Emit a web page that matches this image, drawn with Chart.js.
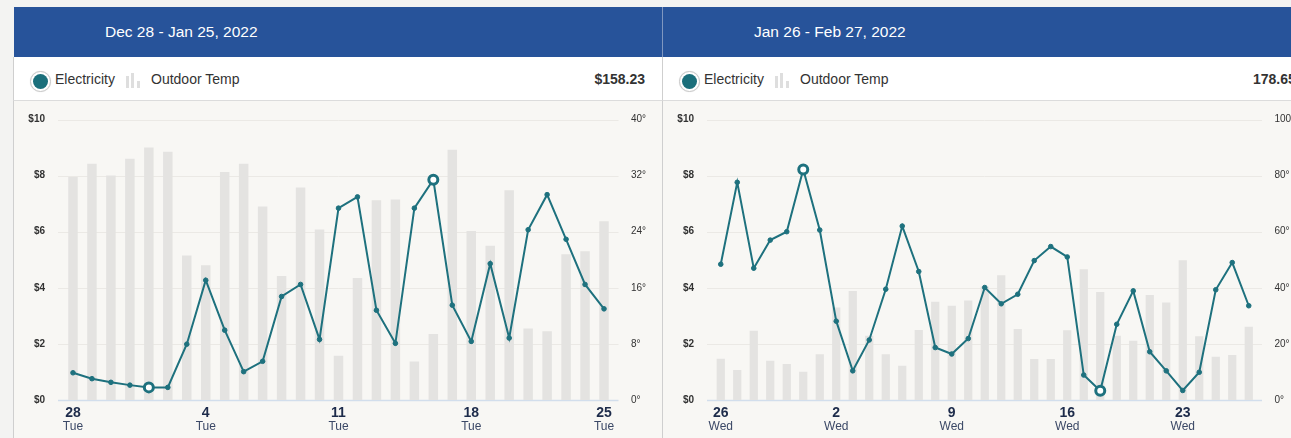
<!DOCTYPE html>
<html>
<head>
<meta charset="utf-8">
<script src="https://cdn.jsdelivr.net/npm/chart.js@4.4.1/dist/chart.umd.min.js"></script>
<style>
  html, body { margin: 0; padding: 0; }
  body { width: 1291px; height: 438px; overflow: hidden; background: #f3f3f2; position: relative;
         font-family: "Liberation Sans", Arial, sans-serif; }
  .panel { position: absolute; top: 7px; width: 649px; height: 431px; }
  .head { height: 50px; background: #27539a; color: #fff; font-size: 15.5px; line-height: 49px;
          padding-left: 91px; box-sizing: border-box; margin-left: 1px; }
  .legend { position: relative; background: #fff; border-left: 1px solid #cfcfcf;
            border-bottom: 1px solid #dcdcdc; box-sizing: border-box; height: 44px; }
  .plot { position: relative; height: 337px; background: #f8f7f4; border-left: 1px solid #cfcfcf; overflow: hidden; }
  .plot canvas { position: absolute; left: 0; top: -6px; }
  .dot { position: absolute; left: 16px; top: 14px; width: 19px; height: 19px; border-radius: 50%;
         background: #fff; border: 1px solid #c9c9c9; box-shadow: 0 0 1px rgba(0,0,0,.15); }
  .dot::after { content: ""; position: absolute; left: 2px; top: 2px; width: 15px; height: 15px;
                border-radius: 50%; background: #1b6f7b; }
  .lbl { position: absolute; top: 13px; font-size: 14px; color: #333; line-height: 18px; }
  .bars { position: absolute; left: 112px; top: 15px; width: 16px; height: 16px; }
  .bars i { position: absolute; bottom: 0; width: 3px; background: #dedede; }
  .total { position: absolute; top: 13px; font-size: 14px; font-weight: bold; color: #333; line-height: 18px; }
  #p2 .head { border-left: 1px solid #7f97c0; margin-left: 0; }
</style>
</head>
<body>

<div class="panel" id="p1" style="left:13px">
  <div class="head">Dec 28 - Jan 25, 2022</div>
  <div class="legend">
    <span class="dot"></span><span class="lbl" style="left:41px">Electricity</span>
    <span class="bars"><i style="left:0;height:12px"></i><i style="left:5px;height:15px"></i><i style="left:11px;height:7px"></i></span>
    <span class="lbl" style="left:137px">Outdoor Temp</span>
    <span class="total" style="right:17px">$158.23</span>
  </div>
  <div class="plot"><canvas id="c1" width="648" height="343"></canvas></div>
</div>

<div class="panel" id="p2" style="left:662px">
  <div class="head">Jan 26 - Feb 27, 2022</div>
  <div class="legend">
    <span class="dot"></span><span class="lbl" style="left:41px">Electricity</span>
    <span class="bars"><i style="left:0;height:12px"></i><i style="left:5px;height:15px"></i><i style="left:11px;height:7px"></i></span>
    <span class="lbl" style="left:137px">Outdoor Temp</span>
    <span class="total" style="left:590px">178.65</span>
  </div>
  <div class="plot"><canvas id="c2" width="648" height="343"></canvas></div>
</div>

<script>
// ── data: Dec 28 – Jan 25 ──
const daysA    = ['28','29','30','31','1','2','3','4','5','6','7','8','9','10','11','12','13','14','15','16','17','18','19','20','21','22','23','24','25'];
const weekdayA = 'Tue';
const elecA    = [0.97,0.76,0.63,0.53,0.45,0.45,1.99,4.27,2.49,1.01,1.38,3.69,4.12,2.16,6.84,7.24,3.20,2.02,6.84,7.85,3.38,2.09,4.86,2.21,6.07,7.32,5.73,4.12,3.25];
const tempA    = [31.8,33.7,32.0,34.4,36.0,35.4,20.6,19.2,32.5,33.7,27.6,17.7,30.3,24.3,6.3,17.4,28.5,28.6,5.5,9.4,35.7,24.1,22.0,29.9,10.2,9.8,20.8,21.2,25.5];
const tempTicksA = { max: 40, step: 8 };
const markA    = [4, 19];

// ── data: Jan 26 – Feb 27 ──
const daysB    = ['26','27','28','29','30','31','1','2','3','4','5','6','7','8','9','10','11','12','13','14','15','16','17','18','19','20','21','22','23','24','25','26','27'];
const weekdayB = 'Wed';
const elecB    = [4.84,7.76,4.70,5.70,6.00,8.22,6.06,2.81,1.04,2.14,3.95,6.20,4.58,1.87,1.64,2.19,4.01,3.43,3.77,4.97,5.47,5.10,0.89,0.33,2.70,3.89,1.72,1.04,0.34,0.99,3.93,4.90,3.36];
const tempB    = [14.7,10.7,24.7,14.0,12.8,10.1,16.3,33.0,38.9,22.9,16.3,12.2,25.0,35.0,33.6,35.5,40.5,44.5,25.3,14.6,14.6,24.9,46.6,38.5,22.9,21.1,37.4,34.8,49.8,22.7,15.4,16.0,26.1];
const tempTicksB = { max: 100, step: 20 };
const markB    = [5, 23];

const TEAL = '#1e717e';
const FONT = '"Liberation Sans", Arial, sans-serif';

// horizontal grid lines that run a little past the plot area
const extGrid = {
  id: 'extGrid',
  beforeDatasetsDraw(chart) {
    const { ctx, chartArea: a, scales: { y } } = chart;
    ctx.save();
    y.ticks.forEach(t => {
      const py = Math.round(y.getPixelForValue(t.value)) + 0.5;
      ctx.strokeStyle = t.value === 0 ? '#d2deec' : '#ebe9e5';
      ctx.lineWidth = t.value === 0 ? 1.5 : 1;
      ctx.beginPath();
      ctx.moveTo(a.left - 5.5, py);
      ctx.lineTo(a.right + 5, py);
      ctx.stroke();
    });
    ctx.restore();
  }
};

function makeChart(id, days, weekday, elec, temp, tt, marks, rightW) {
  const isMark = c => marks.includes(c.dataIndex);
  return new Chart(document.getElementById(id), {
    type: 'bar',
    data: {
      labels: days,
      datasets: [
        { type: 'line', data: elec, yAxisID: 'y', order: 1,
          borderColor: TEAL, borderWidth: 2, tension: 0,
          pointRadius: c => isMark(c) ? 4.5 : 2.3,
          pointBorderWidth: c => isMark(c) ? 3 : 1,
          pointBackgroundColor: c => isMark(c) ? '#ffffff' : TEAL,
          pointBorderColor: TEAL },
        { type: 'bar', data: temp, yAxisID: 'y1', order: 2,
          backgroundColor: '#e4e3e1', barPercentage: 0.5, categoryPercentage: 1 },
      ]
    },
    options: {
      responsive: false, animation: false,
      layout: { padding: { top: 12 } },
      plugins: { legend: { display: false }, tooltip: { enabled: false } },
      scales: {
        x: { weight: 0, grid: { display: false, drawTicks: false }, border: { display: false },
             afterFit: s => { s.height = 18; },
             ticks: { autoSkip: false, maxRotation: 0, padding: 5, color: '#1d2b4a',
                      font: { family: FONT, size: 14, weight: 'bold' },
                      callback: (v, i) => i % 7 === 0 ? days[i] : '' } },
        x2: { type: 'category', position: 'bottom', weight: 1,
              grid: { display: false, drawTicks: false }, border: { display: false },
              afterFit: s => { s.height = 20; },
              ticks: { autoSkip: false, maxRotation: 0, padding: 1, color: '#3b4866',
                       font: { family: FONT, size: 12 },
                       callback: (v, i) => i % 7 === 0 ? weekday : '' } },
        y: { position: 'left', min: 0, max: 10,
             grid: { display: false, drawTicks: false }, border: { display: false },
             afterFit: s => { s.width = 49.5; },
             ticks: { stepSize: 2, padding: 18.5, color: '#333',
                      font: { family: FONT, size: 10, weight: 'bold' },
                      callback: v => '$' + v } },
        y1: { position: 'right', min: 0, max: tt.max,
              grid: { display: false, drawTicks: false }, border: { display: false },
              afterFit: s => { s.width = rightW; },
              ticks: { stepSize: tt.step, padding: 17.5, color: '#333',
                       font: { family: FONT, size: 10 },
                       callback: v => v + '°' } },
      }
    },
    plugins: [extGrid]
  });
}

makeChart('c1', daysA, weekdayA, elecA, tempA, tempTicksA, markA, 48.5);
makeChart('c2', daysB, weekdayB, elecB, tempB, tempTicksB, markB, 54);
</script>
</body>
</html>
